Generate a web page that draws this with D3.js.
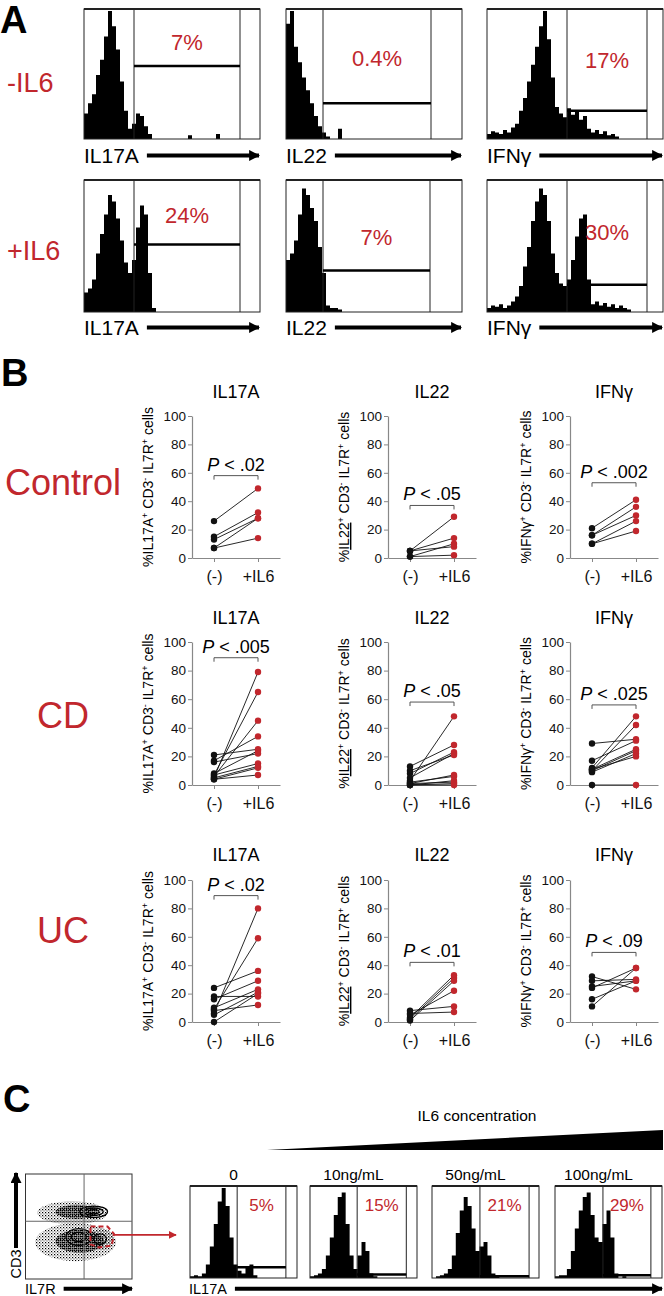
<!DOCTYPE html>
<html><head><meta charset="utf-8">
<script src="https://cdn.jsdelivr.net/npm/d3@7"></script>
<style>
body{margin:0;background:#fff}
svg{display:block}
text{font-family:"Liberation Sans",Arial,Helvetica,sans-serif}
</style>
</head><body>
<svg id="c" width="664" height="1296"></svg>
<script>
// ================= DATA =================
// Panel A
const histRowLabels = ["-IL6", "+IL6"];
const histMarkers = ["IL17A", "IL22", "IFNγ"];
const histPercents = [["7%", "0.4%", "17%"], ["24%", "7%", "30%"]];
// bin counts (% of max), 44 bins across each histogram frame
const hMinusIL17A = [20,28,35,50,62,80,100,88,70,45,22,8,12,20,18,10,4,0,0,0,0,0,0,0,0,0,3,0,0,0,0,0,0,4,0,0,0,0,0,0,0,0,0,0];
const hMinusIL22  = [90,100,72,60,48,38,28,18,10,5,2,0,0,8,0,0,0,0,0,0,0,0,0,0,0,0,0,0,0,0,0,0,0,0,0,0,0,0,0,0,0,0,0,0];
const hMinusIFNg  = [4,6,5,4,7,5,9,12,22,32,45,58,72,88,100,78,48,25,20,17,24,19,22,15,18,8,5,7,4,6,3,4,2,0,0,0,0,0,0,0,0,0,0,0];
const hPlusIL17A  = [15,18,25,45,60,75,90,85,72,55,38,30,40,65,82,75,30,3,0,0,0,0,0,0,0,0,0,0,0,0,0,0,0,0,0,0,0,0,0,0,0,0,0,0];
const hPlusIL22   = [40,45,55,75,95,90,80,70,50,30,5,3,3,2,0,0,0,0,0,0,0,0,0,0,0,0,0,0,0,0,0,0,0,0,0,0,0,0,0,0,0,0,0,0];
const hPlusIFNg   = [3,5,4,6,3,5,8,12,20,35,50,70,85,95,90,70,45,30,22,20,25,40,58,72,75,25,6,8,5,7,4,6,3,5,3,2,0,0,0,0,0,0,0,0];
// gates: [left bin, right bin, level %]
const histGates = [[[12.5,39,57],[9.25,36.25,28],[20,40,22]], [[12.5,39,52],[9.25,36,32],[20,40,21]]];

// Panel B
const groups = ["(-)", "+IL6"];
const conditions = ["Control", "CD", "UC"];
const cytokines = ["IL17A", "IL22", "IFNγ"];
const yTicks = [0, 20, 40, 60, 80, 100];
const ctrlIL17A = [[26,49],[15,32],[13,28],[7,28],[7,14]];
const ctrlIL22  = [[5,29],[5,14],[1,10],[5,8],[1,2]];
const ctrlIFNg  = [[21,41],[16,36],[16,30],[10,26],[10,19]];
const cdIL17A   = [[5,79],[7,65],[6,45],[17,34],[21,25],[8,24],[16,22],[7,15],[5,13],[4,12],[4,7]];
const cdIL22    = [[3,48],[13,28],[8,23],[5,22],[10,21],[1,7],[2,6],[0,3],[1,2],[0,1],[0,0]];
const cdIFNg    = [[12,48],[10,42],[29,32],[17,31],[11,25],[10,24],[9,22],[11,20],[0,0]];
const ucIL17A   = [[6,80],[9,59],[24,36],[16,29],[10,23],[18,18],[5,21],[0,20],[8,12]];
const ucIL22    = [[3,33],[2,31],[1,29],[5,22],[8,11],[6,7]];
const ucIFNg    = [[32,23],[29,30],[25,29],[24,38],[16,29],[11,38]];
const pLabels   = [".02", ".05", ".002", ".005", ".05", ".025", ".02", ".01", ".09"];
const bracketLevels = [58, 37, 53, 89, 58, 56, 89, 42, 49];

// Panel C
const concLabels = ["0", "10ng/mL", "50ng/mL", "100ng/mL"];
const concPercents = ["5%", "15%", "21%", "29%"];
const hConc0   = [2,3,2,5,15,35,60,85,100,80,45,15,8,5,12,15,3,0,0,0,0,0,0,0,0,0,0];
const hConc10  = [2,3,5,10,25,45,70,90,95,60,25,10,25,40,30,5,2,0,0,0,0,0,0,0,0,0,0];
const hConc50  = [0,2,3,5,10,25,50,75,90,80,55,30,35,40,25,5,2,0,0,0,0,0,0,0,0,0,0];
const hConc100 = [2,3,3,10,30,55,75,90,95,70,45,40,60,75,45,5,0,2,0,0,0,0,0,0,0,0,0];
const concGates = [[11.9,24.2,12],[11.9,24.3,4],[12.1,24.5,2],[12.1,24.2,3]];
// dot plot populations in (IL7R, CD3) units 0-100: [cx, cy, rx, ry]
const dotPopulations = [[44,63,33,11],[47,35,38,18],[72,38,11,10]];
const contourRings = [[64,64,13,5.5],[64,64,9,3.6],[64,64,5,2],[50,40,12,8],[50,40,7,4.5],[70,38,6,5]];
const gateIL7R = [61,77,83,81,69,61];
const gateCD3  = [50,50,43,32,30,33];

// ================= DRAW =================
const RED = "#c1272d";
const svg = d3.select("#c");
const defs = svg.append("defs");
defs.append("marker").attr("id","ah").attr("viewBox","0 0 10 10").attr("refX",9).attr("refY",5)
  .attr("markerWidth",11).attr("markerHeight",11).attr("markerUnits","userSpaceOnUse").attr("orient","auto")
  .append("path").attr("d","M0,0L10,5L0,10Z").attr("fill","#000");
defs.append("marker").attr("id","ahr").attr("viewBox","0 0 10 10").attr("refX",9).attr("refY",5)
  .attr("markerWidth",8).attr("markerHeight",8).attr("markerUnits","userSpaceOnUse").attr("orient","auto")
  .append("path").attr("d","M0,0L10,5L0,10Z").attr("fill",RED);
const sp1 = defs.append("pattern").attr("id","sp1").attr("width",3).attr("height",3).attr("patternUnits","userSpaceOnUse");
sp1.append("rect").attr("width",1.2).attr("height",1.2).attr("fill","#000");
sp1.append("rect").attr("x",1.5).attr("y",1.5).attr("width",1).attr("height",1).attr("fill","#222");
const sp2 = defs.append("pattern").attr("id","sp2").attr("width",2).attr("height",2).attr("patternUnits","userSpaceOnUse");
sp2.append("rect").attr("width",1.5).attr("height",1.5).attr("fill","#000");

function letter(t,x,y){ svg.append("text").attr("x",x).attr("y",y).attr("font-size",38).attr("font-weight","bold").text(t); }
letter("A",0,33); letter("B",1,386); letter("C",3,1112);

function arrowLabel(label, x, y, xEnd, fs, sw){
  const t = svg.append("text").attr("x",x).attr("y",y).attr("font-size",fs).text(label);
  const w = t.node().getComputedTextLength();
  svg.append("line").attr("x1",x+w+8).attr("x2",xEnd).attr("y1",y-fs*0.36).attr("y2",y-fs*0.36)
    .attr("stroke","#000").attr("stroke-width",sw).attr("marker-end","url(#ah)");
}

function histogram(values, left, right, top, bottom, gate, pct, pctY, pctFs){
  const n = values.length;
  const x = d3.scaleLinear().domain([0,n]).range([left,right]);
  const y = d3.scaleLinear().domain([0,100]).range([bottom, top+2]);
  const pts = values.map((v,i)=>[i,v]).concat([[n, values[n-1]]]);
  svg.append("path").datum(pts)
    .attr("d", d3.area().x(d=>x(d[0])).y0(bottom).y1(d=>y(d[1])).curve(d3.curveStepAfter))
    .attr("fill","#000");
  svg.append("rect").attr("x",left).attr("y",top).attr("width",right-left).attr("height",bottom-top)
    .attr("fill","none").attr("stroke","#222").attr("stroke-width",1);
  svg.append("line").attr("x1",left).attr("x2",right).attr("y1",top).attr("y2",top).attr("stroke","#222").attr("stroke-width",2);
  const [g0,g1,lev] = gate;
  svg.append("line").attr("x1",x(g0)).attr("x2",x(g0)).attr("y1",top).attr("y2",bottom).attr("stroke","#222").attr("stroke-width",1);
  svg.append("line").attr("x1",x(g1)).attr("x2",x(g1)).attr("y1",top).attr("y2",bottom).attr("stroke","#222").attr("stroke-width",1);
  svg.append("line").attr("x1",x(g0)).attr("x2",x(g1)).attr("y1",y(lev)).attr("y2",y(lev)).attr("stroke","#000").attr("stroke-width",2.5);
  svg.append("text").attr("x",(x(g0)+x(g1))/2).attr("y",pctY).attr("text-anchor","middle")
    .attr("font-size",pctFs).attr("fill",RED).text(pct);
}

// ---- Panel A ----
const aHists = [[hMinusIL17A,hMinusIL22,hMinusIFNg],[hPlusIL17A,hPlusIL22,hPlusIFNg]];
const aRowsTop = [9,180], aRowsBottom = [139,312], aLabelY = [163,335], aRowLabY = [92,260];
const aPctY = [[50,66,68],[223,245,240]];
const aCols = [84,286,487], aW = 176;
histRowLabels.forEach((lab,r)=>{
  svg.append("text").attr("x",7).attr("y",aRowLabY[r]).attr("font-size",27).attr("fill",RED).text(lab);
  histMarkers.forEach((m,c)=>{
    histogram(aHists[r][c], aCols[c], aCols[c]+aW, aRowsTop[r], aRowsBottom[r], histGates[r][c], histPercents[r][c], aPctY[r][c], 22);
    arrowLabel(m, aCols[c], aLabelY[r], aCols[c]+aW-1, 21, 4);
  });
});

// ---- Panel B ----
const plotPairs = [ctrlIL17A,ctrlIL22,ctrlIFNg,cdIL17A,cdIL22,cdIFNg,ucIL17A,ucIL22,ucIFNg];
const rowY0 = [558,785,1022], rowY100 = [416,642,880], titleY = [398,624,861], rowLabY = [495,728,943];
const colAxisX = [192,388,570];
conditions.forEach((cond,r)=>{
  svg.append("text").attr("x",63).attr("y",rowLabY[r]).attr("text-anchor","middle").attr("font-size",36).attr("fill",RED).text(cond);
  cytokines.forEach((cyt,c)=>{
    const i = r*3+c, ax = colAxisX[c];
    const y = d3.scaleLinear().domain([0,100]).range([rowY0[r], rowY100[r]]);
    const x = d3.scalePoint().domain(groups).range([ax, ax+88]).padding(0.5);
    svg.append("text").attr("x",ax+44).attr("y",titleY[r]).attr("text-anchor","middle").attr("font-size",18).text(cyt);
    const gy = svg.append("g").attr("transform",`translate(${ax},0)`)
      .call(d3.axisLeft(y).tickValues(yTicks).tickFormat(d3.format("d")).tickSize(4).tickSizeOuter(0).tickPadding(2));
    const gx = svg.append("g").attr("transform",`translate(0,${rowY0[r]})`)
      .call(d3.axisBottom(x).tickSize(4).tickSizeOuter(0).tickPadding(9));
    [gy,gx].forEach(g=>{
      g.select(".domain").attr("stroke","#888").attr("stroke-width",1.2);
      g.selectAll(".tick line").attr("stroke","#888");
      g.selectAll("text").attr("fill","#111").attr("font-family",'"Liberation Sans",Arial,sans-serif');
    });
    gy.selectAll("text").attr("font-size",13.5);
    gx.selectAll("text").attr("font-size",16);
    // y label
    const yl = svg.append("text").attr("transform",`translate(${ax-39},${(rowY0[r]+rowY100[r])/2}) rotate(-90)`)
      .attr("text-anchor","middle").attr("font-size",14);
    yl.append("tspan").text("%");
    const tb = yl.append("tspan").text(cyt);
    if (cyt==="IL22") tb.attr("text-decoration","underline");
    yl.append("tspan").attr("dy",-5).attr("font-size",9).text("+");
    yl.append("tspan").attr("dy",5).text(" CD3");
    yl.append("tspan").attr("dy",-5).attr("font-size",9).text("-");
    yl.append("tspan").attr("dy",5).text(" IL7R");
    yl.append("tspan").attr("dy",-5).attr("font-size",9).text("+");
    yl.append("tspan").attr("dy",5).text(" cells");
    // lines + dots
    const data = plotPairs[i];
    svg.append("g").selectAll("line").data(data).join("line")
      .attr("x1",x(groups[0])).attr("x2",x(groups[1]))
      .attr("y1",d=>y(d[0])).attr("y2",d=>y(d[1])).attr("stroke","#111").attr("stroke-width",0.9);
    svg.append("g").selectAll("circle").data(data).join("circle")
      .attr("cx",x(groups[0])).attr("cy",d=>y(d[0])).attr("r",3.2).attr("fill","#111");
    svg.append("g").selectAll("circle").data(data).join("circle")
      .attr("cx",x(groups[1])).attr("cy",d=>y(d[1])).attr("r",3.2).attr("fill",RED);
    // bracket
    const yb = y(bracketLevels[i]);
    svg.append("path").attr("d",`M${x(groups[0])},${yb+4}V${yb}H${x(groups[1])}V${yb+4}`)
      .attr("fill","none").attr("stroke","#555").attr("stroke-width",1);
    const pt = svg.append("text").attr("x",ax+44).attr("y",yb-5).attr("text-anchor","middle").attr("font-size",18);
    pt.append("tspan").attr("font-style","italic").text("P");
    pt.append("tspan").text(" < " + pLabels[i]);
  });
});

// ---- Panel C ----
svg.append("text").attr("x",477).attr("y",1121).attr("text-anchor","middle").attr("font-size",15.5).text("IL6 concentration");
svg.append("path").attr("d","M267,1150L663,1130L663,1150Z").attr("fill","#000");

// dot plot
const dx = d3.scaleLinear().domain([0,100]).range([25.5,132]);
const dy = d3.scaleLinear().domain([0,100]).range([1279,1174]);
const dp = svg.append("g");
dp.append("defs").append("clipPath").attr("id","dclip").append("rect")
  .attr("x",25.5).attr("y",1174).attr("width",106.5).attr("height",105);
const dpc = dp.append("g").attr("clip-path","url(#dclip)");
dotPopulations.forEach(p=>{
  dpc.append("ellipse").attr("cx",dx(p[0])).attr("cy",dy(p[1])).attr("rx",dx(p[2])-dx(0)).attr("ry",dy(0)-dy(p[3]))
    .attr("fill","url(#sp1)");
});
dotPopulations.slice(0,2).forEach(p=>{
  dpc.append("ellipse").attr("cx",dx(p[0]+4)).attr("cy",dy(p[1]+1)).attr("rx",(dx(p[2])-dx(0))*0.6).attr("ry",(dy(0)-dy(p[3]))*0.6)
    .attr("fill","url(#sp2)");
});
contourRings.forEach(p=>{
  dpc.append("ellipse").attr("cx",dx(p[0])).attr("cy",dy(p[1])).attr("rx",dx(p[2])-dx(0)).attr("ry",dy(0)-dy(p[3]))
    .attr("fill","none").attr("stroke","#000").attr("stroke-width",1.3);
});
dp.append("rect").attr("x",25.5).attr("y",1174).attr("width",106.5).attr("height",105).attr("fill","none").attr("stroke","#333");
dp.append("line").attr("x1",dx(55)).attr("x2",dx(55)).attr("y1",1174).attr("y2",1279).attr("stroke","#666");
dp.append("line").attr("x1",25.5).attr("x2",132).attr("y1",dy(55)).attr("y2",dy(55)).attr("stroke","#666");
dp.append("path").datum(gateIL7R.map((v,i)=>[v,gateCD3[i]]))
  .attr("d", d3.line().x(d=>dx(d[0])).y(d=>dy(d[1])).curve(d3.curveLinearClosed))
  .attr("fill","none").attr("stroke",RED).attr("stroke-width",2).attr("stroke-dasharray","5,3");
svg.append("line").attr("x1",dx(83)).attr("x2",176).attr("y1",dy(42)).attr("y2",dy(42))
  .attr("stroke",RED).attr("stroke-width",1.8).attr("marker-end","url(#ahr)");
// axis labels of dot plot
svg.append("text").attr("transform","translate(21,1264) rotate(-90)").attr("text-anchor","middle").attr("font-size",14.5).text("CD3");
svg.append("line").attr("x1",16).attr("x2",16).attr("y1",1248).attr("y2",1173).attr("stroke","#000").attr("stroke-width",4).attr("marker-end","url(#ah)");
arrowLabel("IL7R", 25, 1294, 132, 14.5, 4);

// concentration histograms
const cHists = [hConc0,hConc10,hConc50,hConc100];
const cLeft = [190,310,432,555];
concLabels.forEach((lab,k)=>{
  const l = cLeft[k], rgt = l+107;
  svg.append("text").attr("x",(l+rgt)/2-10).attr("y",1180).attr("text-anchor","middle").attr("font-size",15.5).text(lab);
  histogram(cHists[k], l, rgt, 1186, 1278, concGates[k], concPercents[k], 1211, 17);
});
arrowLabel("IL17A", 189, 1294, 662, 14.5, 4);
</script>
</body></html>
